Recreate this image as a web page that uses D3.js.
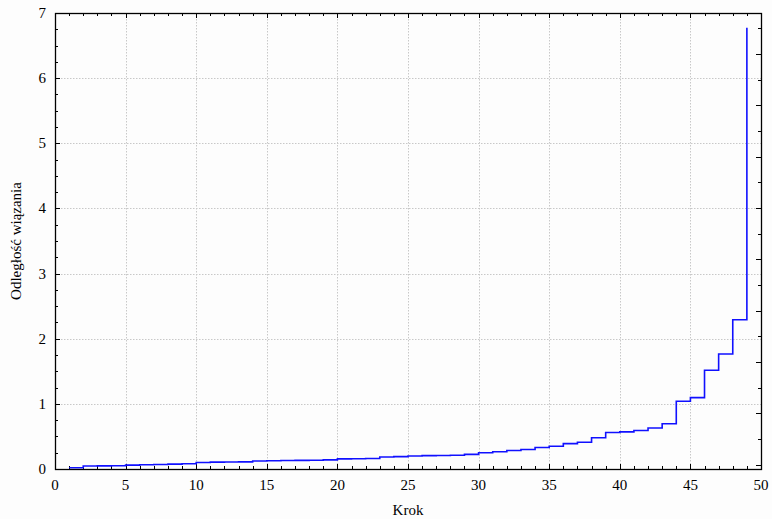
<!DOCTYPE html>
<html>
<head>
<meta charset="utf-8">
<script src="https://cdn.jsdelivr.net/npm/d3@7"></script>
<style>
  body { margin: 0; background: #fdfdfd; }
  text { font-family: "Liberation Serif", "Times New Roman", serif; fill: #000; }
</style>
</head>
<body>
<div id="chart"></div>
<script>
// agglomeration steps and linkage distance at each step
const steps = d3.range(1, 50);
const distances = [
	0.02, 0.045, 0.048, 0.05, 0.06, 0.065, 0.07, 0.075, 0.08, 0.1,
	0.105, 0.108, 0.11, 0.123, 0.126, 0.13, 0.132, 0.135, 0.14, 0.155,
	0.158, 0.162, 0.185, 0.19, 0.2, 0.205, 0.207, 0.21, 0.225, 0.25,
	0.265, 0.285, 0.3, 0.33, 0.35, 0.39, 0.41, 0.48, 0.56, 0.57,
	0.59, 0.63, 0.695, 1.04, 1.095, 1.515, 1.765, 2.29, 6.775
];
const xTicks = [0, 5, 10, 15, 20, 25, 30, 35, 40, 45, 50];
const yTicks = [0, 1, 2, 3, 4, 5, 6, 7];
const xLabel = 'Krok';
const yLabel = 'Odległość wiązania';

// dimension stuff
const totalWidth = 772;
const totalHeight = 519;
const marginTop = 13;
const marginBottom = 50;
const marginLeft = 55;
const marginRight = 11;
const width = totalWidth - marginLeft - marginRight;
const height = totalHeight - marginTop - marginBottom;

// scales
const scaleX = d3.scaleLinear().domain([0, 50]).range([0, width]);
const scaleY = d3.scaleLinear().domain([0, 7]).range([height, 0]);
// right axis has its own tick spacing in the original
const scaleR = d3.scaleLinear().domain([-1.085, 7.8]).range([height, 0]);

const $svg = d3.select('#chart').append('svg')
	.attr('width', totalWidth)
	.attr('height', totalHeight);

const $g = $svg.append('g')
	.attr('transform', `translate(${marginLeft}, ${marginTop})`);

// grid
const $grid = $g.append('g').attr('class', 'g-grid')
	.attr('stroke', '#c8c8c8')
	.attr('stroke-width', 1)
	.attr('stroke-dasharray', '1.5,1.5');

$grid.selectAll('.grid-x')
	.data(xTicks.slice(1, -1))
	.join('line')
	.attr('x1', d => Math.round(scaleX(d)) + 0.5)
	.attr('x2', d => Math.round(scaleX(d)) + 0.5)
	.attr('y1', 0)
	.attr('y2', height);

$grid.selectAll('.grid-y')
	.data(yTicks.slice(1, -1))
	.join('line')
	.attr('x1', 0)
	.attr('x2', width)
	.attr('y1', d => Math.round(scaleY(d)) + 0.5)
	.attr('y2', d => Math.round(scaleY(d)) + 0.5);

// ticks, drawn inward on all four sides
const $ticks = $g.append('g').attr('class', 'g-ticks')
	.attr('stroke', '#000')
	.attr('stroke-width', 1);

const xMinor = d3.range(0, 51);
const yMinor = d3.range(0, 7.01, 0.25);
const rMinor = d3.range(-1, 7.81, 0.5);

function tickLen(v, major, big, small) {
	return Math.abs(v / major - Math.round(v / major)) < 1e-6 ? big : small;
}

['bottom', 'top'].forEach(side => {
	const y0 = side === 'bottom' ? height : 0;
	const dir = side === 'bottom' ? -1 : 1;
	$ticks.selectAll(`.tick-${side}`)
		.data(xMinor)
		.join('line')
		.attr('x1', d => Math.round(scaleX(d)) + 0.5)
		.attr('x2', d => Math.round(scaleX(d)) + 0.5)
		.attr('y1', y0)
		.attr('y2', d => y0 + dir * tickLen(d, 5, 5, 3));
});

$ticks.selectAll('.tick-left')
	.data(yMinor)
	.join('line')
	.attr('x1', 0)
	.attr('x2', d => tickLen(d, 1, 5, 3))
	.attr('y1', d => Math.round(scaleY(d)) + 0.5)
	.attr('y2', d => Math.round(scaleY(d)) + 0.5);

$ticks.selectAll('.tick-right')
	.data(rMinor.filter(d => scaleR(d) > 0 && scaleR(d) < height))
	.join('line')
	.attr('x1', width)
	.attr('x2', d => width - tickLen(d, 1, 5, 3))
	.attr('y1', d => Math.round(scaleR(d)) + 0.5)
	.attr('y2', d => Math.round(scaleR(d)) + 0.5);

// step line
const points = steps.map((s, i) => [s, distances[i]]);
const line = d3.line()
	.x(d => scaleX(d[0]))
	.y(d => scaleY(d[1]))
	.curve(d3.curveStepAfter);

$g.append('path')
	.datum(points)
	.attr('fill', 'none')
	.attr('stroke', '#1010ff')
	.attr('stroke-width', 1.6)
	.attr('d', line);

// frame
$g.append('rect')
	.attr('x', 0.5)
	.attr('y', 0.5)
	.attr('width', width)
	.attr('height', height)
	.attr('fill', 'none')
	.attr('stroke', '#000')
	.attr('stroke-width', 1.3);

// tick labels
$g.selectAll('.x-label')
	.data(xTicks)
	.join('text')
	.attr('x', d => scaleX(d))
	.attr('y', height + 21)
	.attr('text-anchor', 'middle')
	.style('font-size', '15px')
	.text(d => d);

$g.selectAll('.y-label')
	.data(yTicks)
	.join('text')
	.attr('x', -9)
	.attr('y', d => scaleY(d) + 5)
	.attr('text-anchor', 'end')
	.style('font-size', '15px')
	.text(d => d);

// axis titles
$g.append('text')
	.attr('x', width / 2)
	.attr('y', height + 46)
	.attr('text-anchor', 'middle')
	.style('font-size', '15px')
	.text(xLabel);

$g.append('text')
	.attr('transform', `translate(-34, ${height / 2}) rotate(-90)`)
	.attr('text-anchor', 'middle')
	.style('font-size', '15px')
	.text(yLabel);
</script>
</body>
</html>
